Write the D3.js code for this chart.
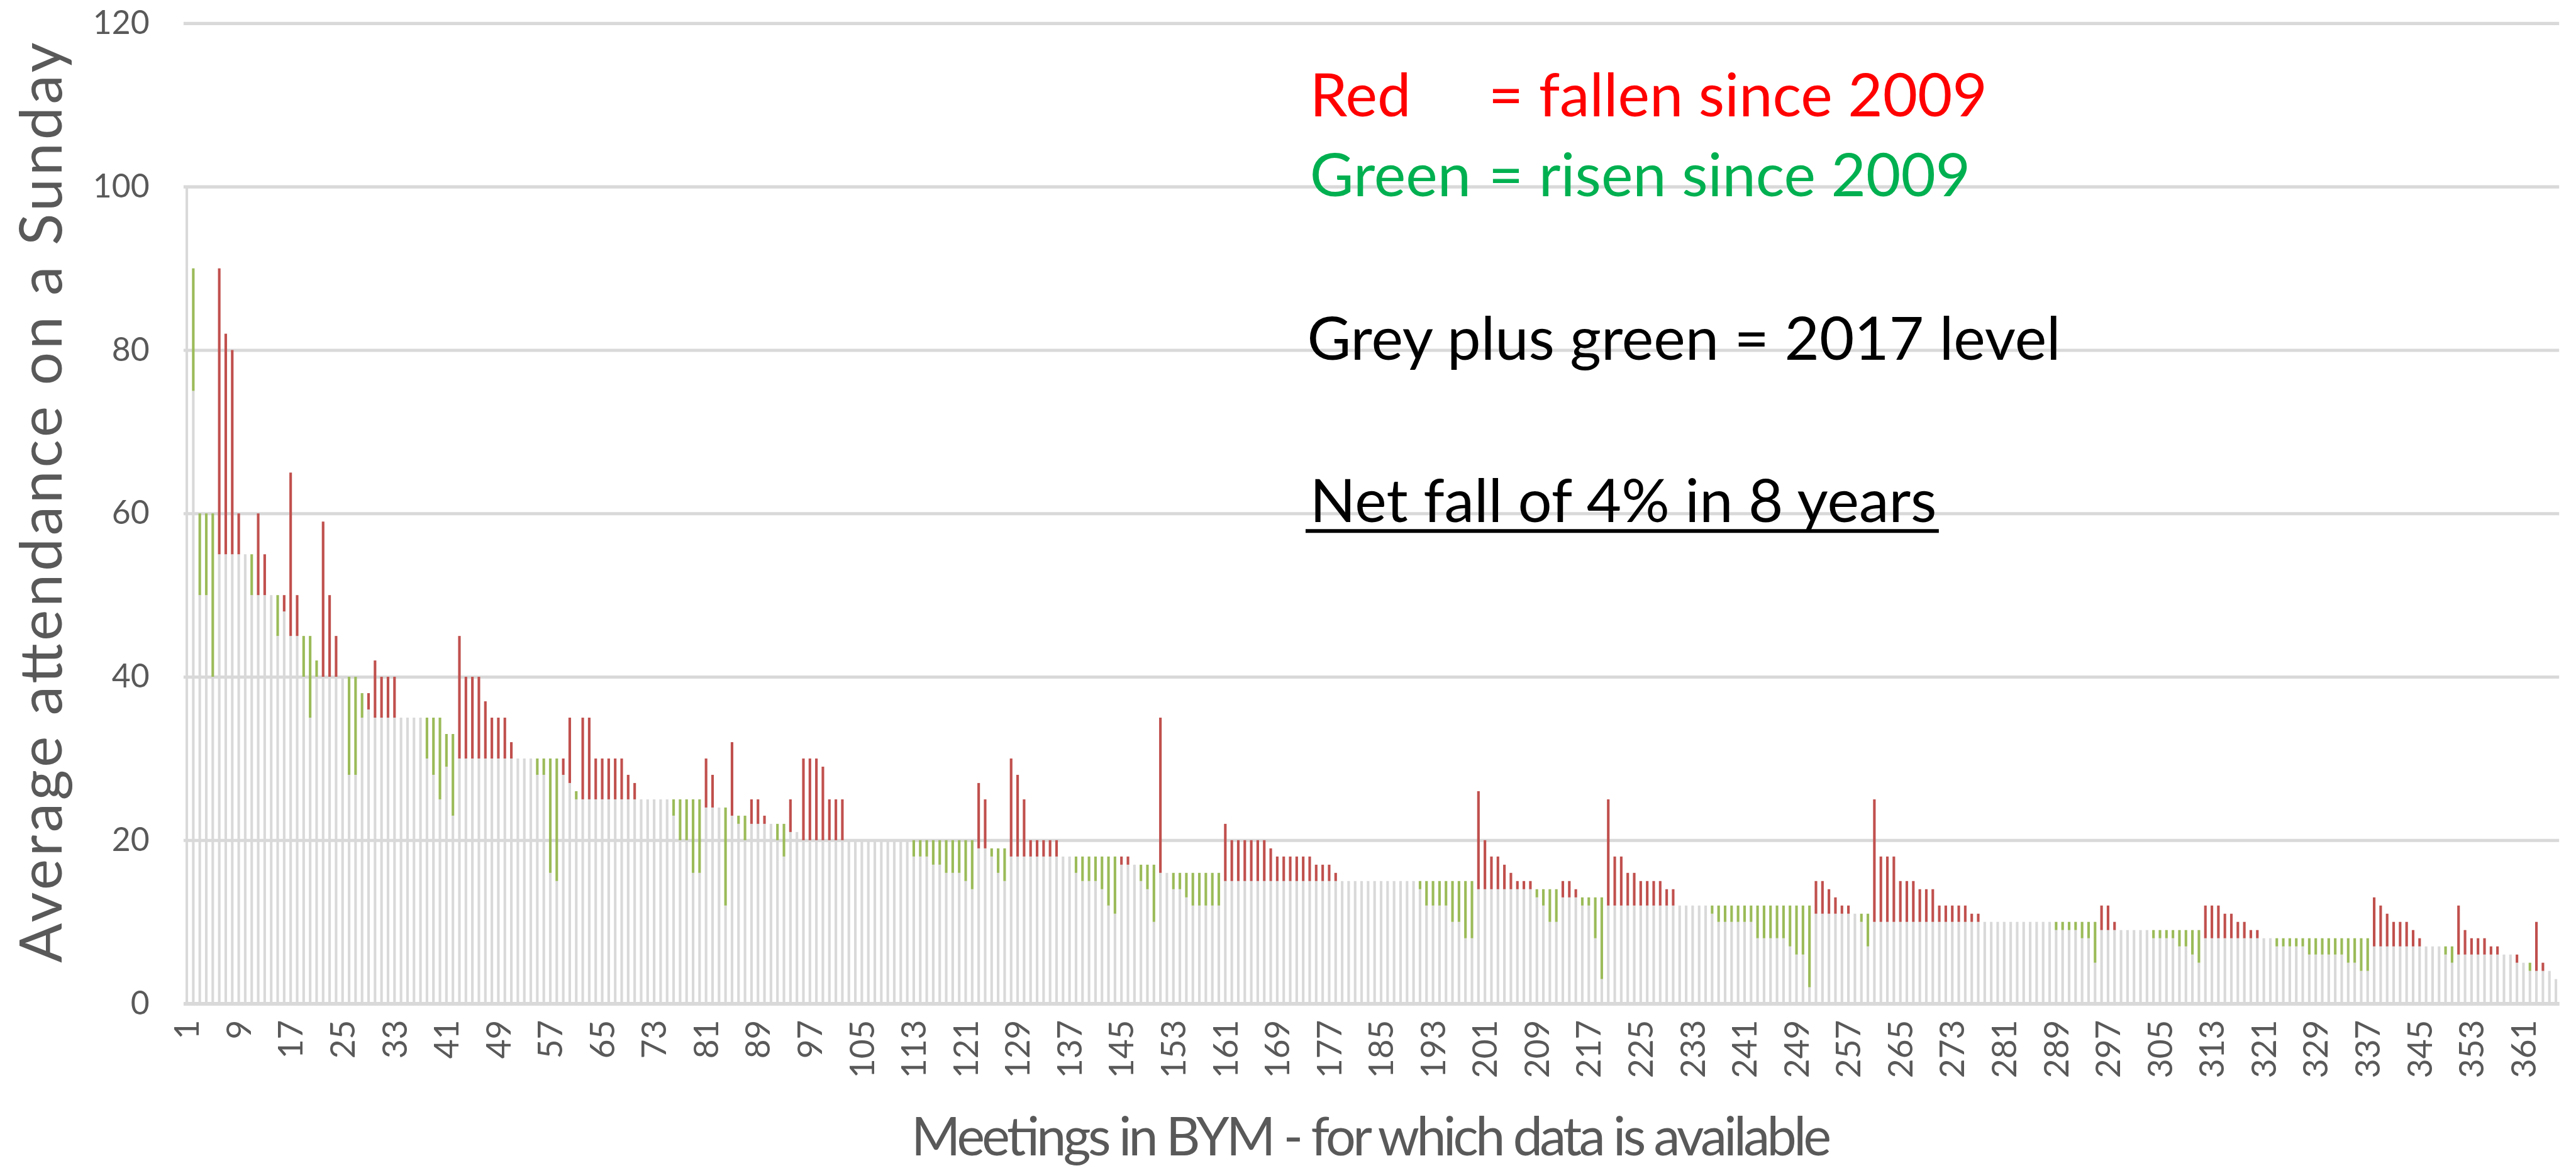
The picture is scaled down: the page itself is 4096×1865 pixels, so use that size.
<!DOCTYPE html>
<html>
<head>
<meta charset="utf-8">
<script src="https://cdn.jsdelivr.net/npm/d3@7"></script>
<style>
  html, body { margin: 0; padding: 0; background: #fff; overflow: hidden; }
  svg { display: block; }
  text { font-family: Lato, "Open Sans", sans-serif; }
</style>
</head>
<body>
<script>
// meetings, numbered in order of 2017 attendance
var meetings = d3.range(1, 367);

// average Sunday attendance, 2009
var att2009 = [
  100, 75, 50, 50, 40, 90, 82, 80, 60, 55,
  50, 60, 55, 50, 45, 50, 65, 50, 40, 35,
  40, 59, 50, 45, 40, 28, 28, 35, 38, 42,
  40, 40, 40, 35, 35, 35, 35, 30, 28, 25,
  29, 23, 45, 40, 40, 40, 37, 35, 35, 35,
  32, 30, 30, 30, 28, 28, 16, 15, 30, 35,
  25, 35, 35, 30, 30, 30, 30, 30, 28, 27,
  25, 25, 25, 25, 25, 23, 20, 20, 16, 16,
  30, 28, 24, 12, 32, 22, 20, 25, 25, 23,
  22, 20, 18, 25, 21, 30, 30, 30, 29, 25,
  25, 25, 20, 20, 20, 20, 20, 20, 20, 20,
  20, 20, 18, 18, 18, 17, 17, 16, 16, 16,
  15, 14, 27, 25, 18, 16, 15, 30, 28, 25,
  20, 20, 20, 20, 20, 18, 18, 16, 15, 15,
  15, 14, 12, 11, 18, 18, 17, 15, 14, 10,
  35, 16, 14, 14, 13, 12, 12, 12, 12, 12,
  22, 20, 20, 20, 20, 20, 20, 19, 18, 18,
  18, 18, 18, 18, 17, 17, 17, 16, 15, 15,
  15, 15, 15, 15, 15, 15, 15, 15, 15, 15,
  14, 12, 12, 12, 12, 10, 10, 8, 8, 26,
  20, 18, 18, 17, 16, 15, 15, 15, 13, 12,
  10, 10, 15, 15, 14, 12, 12, 8, 3, 25,
  18, 18, 16, 16, 15, 15, 15, 15, 14, 14,
  12, 12, 12, 12, 12, 11, 10, 10, 10, 10,
  10, 10, 8, 8, 8, 8, 8, 7, 6, 6,
  2, 15, 15, 14, 13, 12, 12, 11, 10, 7,
  25, 18, 18, 18, 15, 15, 15, 14, 14, 14,
  12, 12, 12, 12, 12, 11, 11, 10, 10, 10,
  10, 10, 10, 10, 10, 10, 10, 10, 9, 9,
  9, 9, 8, 8, 5, 12, 12, 10, 9, 9,
  9, 9, 9, 8, 8, 8, 8, 7, 7, 6,
  5, 12, 12, 12, 11, 11, 10, 10, 9, 9,
  8, 8, 7, 7, 7, 7, 7, 6, 6, 6,
  6, 6, 6, 5, 5, 4, 4, 13, 12, 11,
  10, 10, 10, 9, 8, 7, 7, 7, 6, 5,
  12, 9, 8, 8, 8, 7, 7, 6, 6, 6,
  5, 4, 10, 5, 4, 3
];

// average Sunday attendance, 2017
var att2017 = [
  100, 90, 60, 60, 60, 55, 55, 55, 55, 55,
  55, 50, 50, 50, 50, 48, 45, 45, 45, 45,
  42, 40, 40, 40, 40, 40, 40, 38, 36, 35,
  35, 35, 35, 35, 35, 35, 35, 35, 35, 35,
  33, 33, 30, 30, 30, 30, 30, 30, 30, 30,
  30, 30, 30, 30, 30, 30, 30, 30, 28, 27,
  26, 25, 25, 25, 25, 25, 25, 25, 25, 25,
  25, 25, 25, 25, 25, 25, 25, 25, 25, 25,
  24, 24, 24, 24, 23, 23, 23, 22, 22, 22,
  22, 22, 22, 21, 21, 20, 20, 20, 20, 20,
  20, 20, 20, 20, 20, 20, 20, 20, 20, 20,
  20, 20, 20, 20, 20, 20, 20, 20, 20, 20,
  20, 20, 19, 19, 19, 19, 19, 18, 18, 18,
  18, 18, 18, 18, 18, 18, 18, 18, 18, 18,
  18, 18, 18, 18, 17, 17, 17, 17, 17, 17,
  16, 16, 16, 16, 16, 16, 16, 16, 16, 16,
  15, 15, 15, 15, 15, 15, 15, 15, 15, 15,
  15, 15, 15, 15, 15, 15, 15, 15, 15, 15,
  15, 15, 15, 15, 15, 15, 15, 15, 15, 15,
  15, 15, 15, 15, 15, 15, 15, 15, 15, 14,
  14, 14, 14, 14, 14, 14, 14, 14, 14, 14,
  14, 14, 13, 13, 13, 13, 13, 13, 13, 12,
  12, 12, 12, 12, 12, 12, 12, 12, 12, 12,
  12, 12, 12, 12, 12, 12, 12, 12, 12, 12,
  12, 12, 12, 12, 12, 12, 12, 12, 12, 12,
  12, 11, 11, 11, 11, 11, 11, 11, 11, 11,
  10, 10, 10, 10, 10, 10, 10, 10, 10, 10,
  10, 10, 10, 10, 10, 10, 10, 10, 10, 10,
  10, 10, 10, 10, 10, 10, 10, 10, 10, 10,
  10, 10, 10, 10, 10, 9, 9, 9, 9, 9,
  9, 9, 9, 9, 9, 9, 9, 9, 9, 9,
  9, 8, 8, 8, 8, 8, 8, 8, 8, 8,
  8, 8, 8, 8, 8, 8, 8, 8, 8, 8,
  8, 8, 8, 8, 8, 8, 8, 7, 7, 7,
  7, 7, 7, 7, 7, 7, 7, 7, 7, 7,
  6, 6, 6, 6, 6, 6, 6, 6, 6, 5,
  5, 5, 4, 4, 4, 3
];

var xTickLabels = [1, 9, 17, 25, 33, 41, 49, 57, 65, 73, 81, 89, 97, 105, 113, 121,
  129, 137, 145, 153, 161, 169, 177, 185, 193, 201, 209, 217, 225, 233, 241, 249,
  257, 265, 273, 281, 289, 297, 305, 313, 321, 329, 337, 345, 353, 361];
var yTicks = [0, 20, 40, 60, 80, 100, 120];

// drawing is done in the reference's own pixel space, then scaled by the viewBox
var W = 4759, H = 2167;
var plot = {left: 339, right: 4728, top: 43, bottom: 1854};

var svg = d3.select("body").append("svg")
    .attr("width", 4096)
    .attr("height", 1865)
    .attr("viewBox", "0 0 " + W + " " + H);

var x = d3.scaleBand()
    .domain(meetings)
    .range([plot.left, plot.right])
    .paddingInner(0.6)
    .paddingOuter(0.3);

var y = d3.scaleLinear()
    .domain([0, 120])
    .range([plot.bottom, plot.top]);

// gridlines + y labels
var yAxis = svg.append("g")
    .attr("class", "y axis")
    .attr("transform", "translate(" + plot.left + ",0)")
    .call(d3.axisLeft(y).tickValues(yTicks).tickSize(-(plot.right - plot.left)).tickPadding(63));
yAxis.select(".domain").remove();
yAxis.selectAll(".tick line").attr("stroke", "#d9d9d9").attr("stroke-width", 6);
yAxis.selectAll(".tick text")
    .attr("fill", "#595959")
    .style("font-family", "Lato, 'Open Sans', sans-serif")
    .style("font-size", "60px");

// grey = level kept, green = rise, red = fall
var rows = meetings.map(function (m, i) {
    var a = att2009[i], b = att2017[i];
    return {meeting: m, grey: Math.min(a, b), green: Math.max(b - a, 0), red: Math.max(a - b, 0)};
});
var series = d3.stack().keys(["grey", "green", "red"])(rows);
var colors = {grey: "#d9d9d9", green: "#9bbb59", red: "#c0504d"};

svg.append("g")
    .attr("class", "bars")
    .selectAll("g")
    .data(series)
    .enter().append("g")
    .attr("fill", function (d) { return colors[d.key]; })
    .selectAll("rect")
    .data(function (d) { return d.filter(function (p) { return p[1] > p[0]; }); })
    .enter().append("rect")
    .attr("x", function (d) { return x(d.data.meeting); })
    .attr("y", function (d) { return y(d[1]); })
    .attr("width", x.bandwidth())
    .attr("height", function (d) { return y(d[0]) - y(d[1]); });

// x axis line and rotated labels
var xAxis = svg.append("g")
    .attr("class", "x axis")
    .attr("transform", "translate(0," + plot.bottom + ")")
    .call(d3.axisBottom(x).tickValues(xTickLabels).tickSize(0).tickSizeOuter(0));
xAxis.select(".domain").attr("stroke", "#d9d9d9").attr("stroke-width", 7);
xAxis.selectAll(".tick text")
    .attr("fill", "#595959")
    .style("font-family", "Lato, 'Open Sans', sans-serif")
    .style("font-size", "62px")
    .attr("transform", "rotate(-90)")
    .attr("x", -30)
    .attr("y", 0)
    .attr("dy", "0.36em")
    .style("text-anchor", "end");

function fitWidth(sel, target) {
    var len = sel.node().getComputedTextLength();
    var fs = parseFloat(sel.style("font-size"));
    var size = fs * target / len;
    sel.style("font-size", size + "px");
    return size;
}

// axis titles: size set by letter height, spread to the reference's length
svg.append("text")
    .attr("transform", "translate(114," + ((plot.top + plot.bottom) / 2 - 20) + ") rotate(-90)")
    .attr("text-anchor", "middle")
    .attr("fill", "#595959")
    .style("font-size", "108px")
    .attr("textLength", 1700)
    .attr("lengthAdjust", "spacing")
    .text("Average attendance on a Sunday");

svg.append("text")
    .attr("x", (plot.left + plot.right) / 2)
    .attr("y", 2134)
    .attr("text-anchor", "middle")
    .attr("fill", "#595959")
    .style("font-size", "98px")
    .attr("textLength", 1700)
    .attr("lengthAdjust", "spacing")
    .text("Meetings in BYM - for which data is available");

// notes
var notes = svg.append("g").attr("class", "notes");
var probe = notes.append("text")
    .attr("x", 2415).attr("y", 665)
    .attr("fill", "#000")
    .style("font-size", "110px")
    .text("Grey plus green = 2017 level");
var noteSize = fitWidth(probe, 1392);

var redLine = notes.append("text").attr("y", 215).attr("fill", "#ff0000").style("font-size", noteSize + "px");
redLine.append("tspan").attr("x", 2420).text("Red");
redLine.append("tspan").attr("x", 2750).text("= fallen since 2009");

var greenLine = notes.append("text").attr("y", 363).attr("fill", "#00b050").style("font-size", noteSize + "px");
greenLine.append("tspan").attr("x", 2420).text("Green");
greenLine.append("tspan").attr("x", 2750).text("= risen since 2009");

var net = notes.append("text")
    .attr("x", 2420).attr("y", 964)
    .attr("fill", "#000")
    .style("font-size", noteSize + "px")
    .text("Net fall of 4% in 8 years");
var netLen = net.node().getComputedTextLength();
notes.append("line")
    .attr("x1", 2412).attr("x2", 2420 + netLen + 4)
    .attr("y1", 981).attr("y2", 981)
    .attr("stroke", "#000").attr("stroke-width", 7);
</script>
</body>
</html>
